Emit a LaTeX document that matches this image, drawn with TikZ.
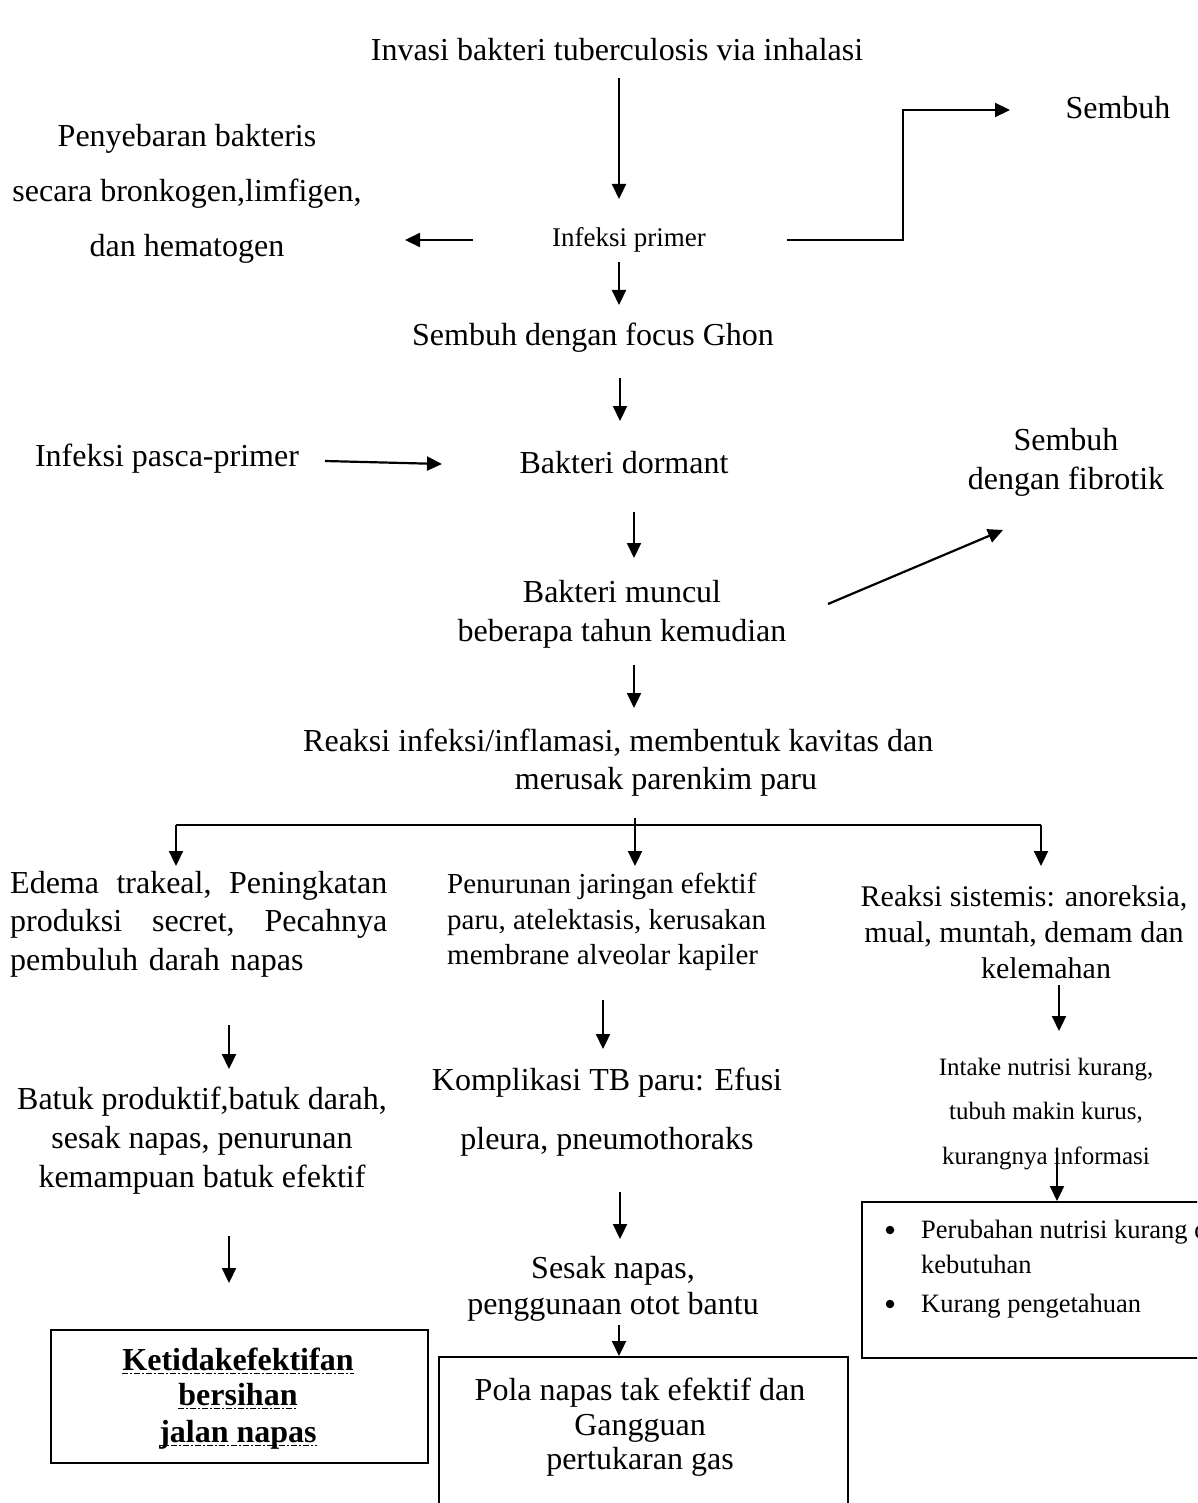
\documentclass[tikz,border=0pt]{standalone}
\usepackage{fontspec}
\setmainfont{Liberation Serif}
\usetikzlibrary{arrows.meta}
\begin{document}
\begin{tikzpicture}[x=1pt,y=-1pt,
  txt/.style={inner sep=0pt, align=center, font=\fontsize{32}{39}\selectfont},
  arr/.style={line width=2.2pt, -{Triangle[length=15pt,width=14pt]}},
  ln/.style={line width=2.2pt},
  box/.style={draw, line width=2pt},
  dot/.style={circle, fill, inner sep=0pt, minimum size=8.5pt},
  ul/.style={line width=1.6pt, dash pattern=on 6pt off 2pt on 2pt off 2pt}
]
\useasboundingbox (0,0) rectangle (1197,1503);
\clip (0,0) rectangle (1197,1503);
\fill[white] (0,0) rectangle (1197,1503);

% --- top part ---
\node[txt] (inv) at (617,50) {Invasi bakteri tuberculosis via inhalasi};
\node[txt, font=\fontsize{27}{32}\selectfont] (ip) at (629,240) {Infeksi primer};
\node[txt, font=\fontsize{32}{55}\selectfont] (peny) at (187,194) {Penyebaran bakteris\\secara bronkogen,limfigen,\\dan hematogen};
\node[txt] (semb1) at (1118,108) {Sembuh};
\node[txt] (ghon) at (593,338) {Sembuh dengan focus Ghon};
\node[txt] (pasca) at (167,459) {Infeksi pasca-primer};
\node[txt] (dorm) at (624,463) {Bakteri dormant};
\node[txt] (fibro) at (1066,462) {Sembuh\\dengan fibrotik};
\node[txt] (muncul) at (622,614) {Bakteri muncul\\beberapa tahun kemudian};
\node[txt, anchor=west] (reak1) at (303,743) {Reaksi infeksi/inflamasi, membentuk kavitas dan};
\node[txt] (reak2) at (666,782) {merusak parenkim paru};

% --- three columns ---
\node[txt, text width=377pt, align=left, anchor=north west, font=\fontsize{32}{38.5}\selectfont] (edema) at (10,871)
  {Edema\hfill trakeal,\hfill Peningkatan\\produksi\hfill secret,\hfill Pecahnya\\pembuluh darah napas};
\node[txt, align=left, anchor=north west, font=\fontsize{29}{35.5}\selectfont] (penur) at (447,873)
  {Penurunan jaringan efektif\\paru, atelektasis, kerusakan\\membrane alveolar kapiler};
\node[txt, font=\fontsize{30}{36}\selectfont] (sist) at (1024,932)
  {Reaksi sistemis: anoreksia,\\mual, muntah, demam dan\\\hspace*{44pt}kelemahan};

\node[txt] (batuk) at (202,1141) {Batuk produktif,batuk darah,\\sesak napas, penurunan\\kemampuan batuk efektif};
\node[txt, font=\fontsize{32}{59}\selectfont] (kompl) at (607,1112) {Komplikasi TB paru: Efusi\\pleura, pneumothoraks};
\node[txt, font=\fontsize{32}{36}\selectfont] (sesak) at (613,1289) {Sesak napas,\\penggunaan otot bantu};
\node[txt, font=\fontsize{25}{44.5}\selectfont] (intake) at (1046,1114) {Intake nutrisi kurang,\\tubuh makin kurus,\\kurangnya informasi};

% --- boxes ---
\node[box, inner sep=0pt, minimum width=377pt, minimum height=133pt] (boxL) at (239.5,1396.5) {};
\node[txt, font=\fontsize{32}{36}\selectfont\bfseries, anchor=base] (k1) at (238,1370) {Ketidakefektifan};
\node[txt, font=\fontsize{32}{36}\selectfont\bfseries, anchor=base] (k2) at (238,1405) {bersihan};
\node[txt, font=\fontsize{32}{36}\selectfont\bfseries, anchor=base] (k3) at (238,1442) {jalan napas};
\draw[ul] ([yshift=-3.5pt]k1.base west) -- ([yshift=-3.5pt]k1.base east);
\draw[ul] ([yshift=-3.5pt]k2.base west) -- ([yshift=-3.5pt]k2.base east);
\draw[ul] ([yshift=-3.5pt]k3.base west) -- ([yshift=-3.5pt]k3.base east);

\node[box, inner sep=0pt, minimum width=409pt, minimum height=170pt] (boxM) at (643.5,1442) {};
\node[txt, font=\fontsize{32}{34.5}\selectfont, anchor=north] (pola) at (640,1378) {Pola napas tak efektif dan\\Gangguan\\pertukaran gas};

\node[box, inner sep=0pt, minimum width=360pt, minimum height=156pt] (boxR) at (1042,1280) {};
\node[dot] (b1) at (890,1230) {};
\node[inner sep=0pt, font=\fontsize{26.5}{30}\selectfont, anchor=base west] (r1) at (921,1238) {Perubahan nutrisi kurang dari};
\node[inner sep=0pt, font=\fontsize{26.5}{30}\selectfont, anchor=base west] (r2) at (921,1273) {kebutuhan};
\node[dot] (b2) at (890,1304) {};
\node[inner sep=0pt, font=\fontsize{26.5}{30}\selectfont, anchor=base west] (r3) at (921,1312) {Kurang pengetahuan};

% --- connector end points ---
\coordinate (a1s) at (619,78);   \coordinate (a1e) at (619,199);
\coordinate (a2s) at (473,240);  \coordinate (a2e) at (405,240);
\coordinate (a3s) at (787,240);  \coordinate (a3m1) at (903,240); \coordinate (a3m2) at (903,110); \coordinate (a3e) at (1010,110);
\coordinate (a4s) at (619,262);  \coordinate (a4e) at (619,305);
\coordinate (a5s) at (620,378);  \coordinate (a5e) at (620,421);
\coordinate (a6s) at (325,461);  \coordinate (a6e) at (442,464);
\coordinate (a7s) at (634,512);  \coordinate (a7e) at (634,558);
\coordinate (a8s) at (828,604);  \coordinate (a8e) at (1003,530);
\coordinate (a9s) at (634,665);  \coordinate (a9e) at (634,708);
\coordinate (brL) at (176,825);  \coordinate (brR) at (1041,825);
\coordinate (brMt) at (635,818); \coordinate (brMe) at (635,866);
\coordinate (brLe) at (176,866); \coordinate (brRe) at (1041,866);
\coordinate (l1s) at (229,1025); \coordinate (l1e) at (229,1069);
\coordinate (l2s) at (229,1236); \coordinate (l2e) at (229,1283);
\coordinate (m1s) at (603,1000); \coordinate (m1e) at (603,1049);
\coordinate (m2s) at (620,1192); \coordinate (m2e) at (620,1239);
\coordinate (m3s) at (619,1325);
\coordinate (r1s) at (1059,985); \coordinate (r1e) at (1059,1031);
\coordinate (r2s) at (1057,1150);

% --- connectors ---
\draw[arr] (a1s) -- (a1e);
\draw[arr] (a2s) -- (a2e);
\draw[arr] (a3s) -- (a3m1) -- (a3m2) -- (a3e);
\draw[arr] (a4s) -- (a4e);
\draw[arr] (a5s) -- (a5e);
\draw[arr] (a6s) -- (a6e);
\draw[arr] (a7s) -- (a7e);
\draw[arr] (a8s) -- (a8e);
\draw[arr] (a9s) -- (a9e);
\draw[ln] (brL) -- (brR);
\draw[arr] (brL) -- (brLe);
\draw[arr] (brR) -- (brRe);
\draw[arr] (brMt) -- (brMe);
\draw[arr] (l1s) -- (l1e);
\draw[arr] (l2s) -- (l2e);
\draw[arr] (m1s) -- (m1e);
\draw[arr] (m2s) -- (m2e);
\draw[arr] (m3s) -- (m3s |- boxM.north);
\draw[arr] (r1s) -- (r1e);
\draw[arr] (r2s) -- (r2s |- boxR.north);
\end{tikzpicture}
\end{document}
